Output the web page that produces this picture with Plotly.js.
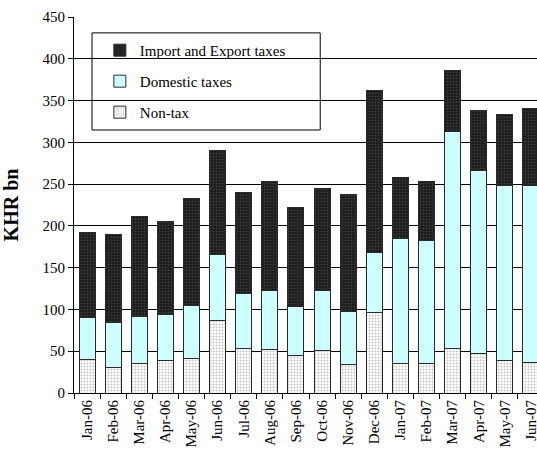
<!DOCTYPE html>
<html>
<head>
<meta charset="utf-8">
<script src="https://cdn.plot.ly/plotly-3.0.1.min.js"></script>
<style>
html,body{margin:0;padding:0;overflow:hidden;background:#fff;}
#chart{width:550px;height:457px;}
</style>
</head>
<body>
<div id="chart"></div>
<script>
var months = ["Jan-06","Feb-06","Mar-06","Apr-06","May-06","Jun-06","Jul-06","Aug-06","Sep-06","Oct-06","Nov-06","Dec-06","Jan-07","Feb-07","Mar-07","Apr-07","May-07","Jun-07"];
var nonTax = [39.9,31.1,35.9,38.7,41.5,86.5,53.0,51.8,45.1,50.6,34.3,96.9,35.1,35.9,52.7,47.0,39.5,37.1];
var domesticTaxes = [49.9,53.1,55.1,55.0,63.5,79.8,65.9,70.7,59.0,71.9,63.8,71.8,149.6,146.8,260.8,218.7,208.9,211.3];
var importExportTaxes = [102.5,105.3,120.4,111.7,127.2,123.7,121.6,130.8,118.5,122.8,139.7,193.5,73.3,70.2,72.2,72.6,85.5,91.9];
var seriesNames = ["Non-tax","Domestic taxes","Import and Export taxes"];

var serif = "Times New Roman, Liberation Serif, serif";
var outline = {color:"#2a2a2a", width:1};

var traces = [
  {type:"bar", name:seriesNames[0], x:months, y:nonTax, legendgroup:"a", legendrank:3,
   marker:{color:"#ffffff", line:outline, pattern:{shape:".", bgcolor:"#ffffff", fgcolor:"#c4c4c4", size:3, solidity:0.35}}},
  {type:"bar", name:seriesNames[1], x:months, y:domesticTaxes, legendgroup:"b", legendrank:2,
   marker:{color:"#ccffff", line:outline}},
  {type:"bar", name:seriesNames[2], x:months, y:importExportTaxes, legendgroup:"c", legendrank:1,
   marker:{color:"#1c1c1c", line:outline, pattern:{shape:".", bgcolor:"#1a1a1a", fgcolor:"#3c3c3c", size:3, solidity:0.35}}}
];

var layout = {
  width:550, height:457,
  margin:{l:74, r:6, t:17, b:64},
  paper_bgcolor:"#fff", plot_bgcolor:"#fff",
  barmode:"stack", bargap:0.39,
  font:{family:serif, size:14, color:"#000"},
  xaxis:{type:"category", range:[-0.5,17.5], tickangle:-90, showline:true, linecolor:"#000", linewidth:1,
         ticks:"outside", tickson:"boundaries", ticklen:5, tickcolor:"#000", showgrid:false,
         tickfont:{family:serif, size:15, color:"#000"}},
  yaxis:{range:[0,450], dtick:50, showline:true, linecolor:"#000", linewidth:1, ticks:"outside", ticklen:5,
         tickcolor:"#000", showgrid:true, gridcolor:"#000", gridwidth:1, zeroline:false,
         tickfont:{family:serif, size:15, color:"#000"},
         title:{text:"KHR bn", font:{family:serif, size:20, color:"#000", weight:"bold"}, standoff:18}},
  showlegend:true,
  legend:{x:0.055, y:0.955, xanchor:"left", yanchor:"top", bgcolor:"rgba(0,0,0,0)", borderwidth:0,
          traceorder:"grouped", tracegroupgap:8.5, font:{family:serif, size:15, color:"#000"}},
  shapes:[{type:"rect", xref:"x", yref:"y", x0:0.19, x1:8.93, y0:314.8, y1:431, layer:"below",
           fillcolor:"#ffffff", line:{color:"#000", width:1}}]
};

Plotly.newPlot("chart", traces, layout, {displayModeBar:false, staticPlot:true});
</script>
</body>
</html>
